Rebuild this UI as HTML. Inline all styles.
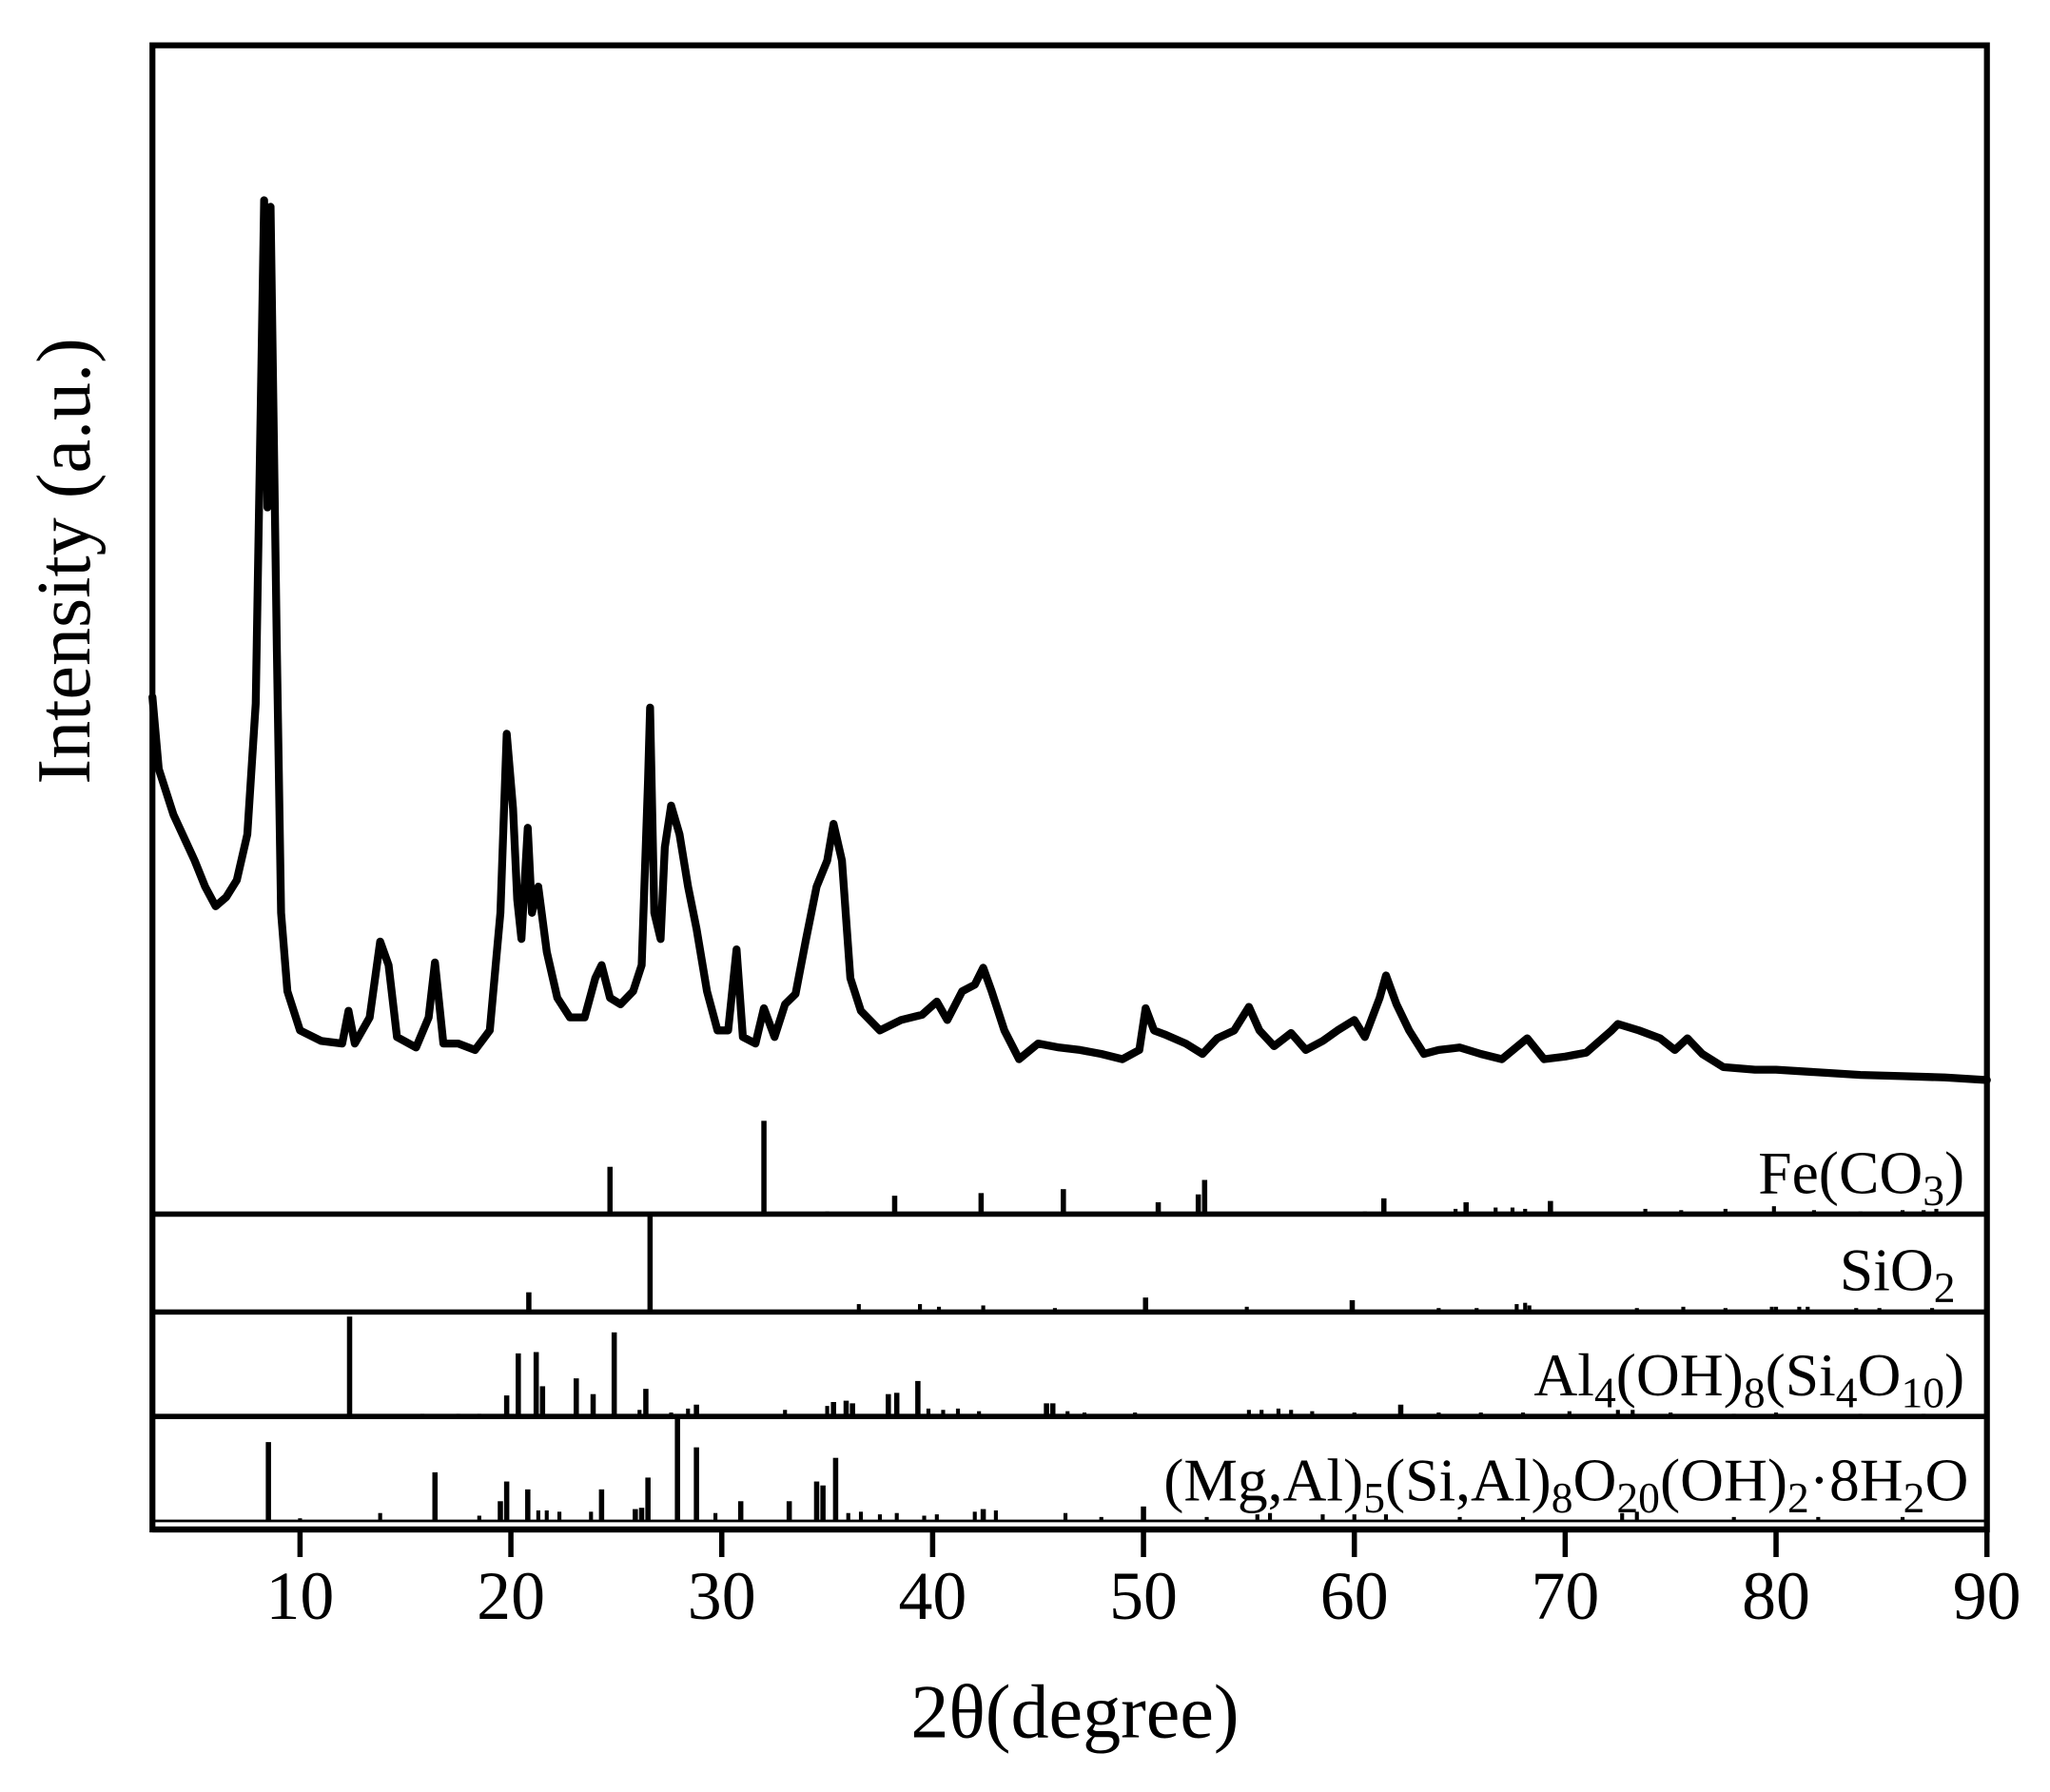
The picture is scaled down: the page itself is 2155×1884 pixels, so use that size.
<!DOCTYPE html>
<html><head><meta charset="utf-8"><style>
html,body{margin:0;padding:0;background:#fff;}
svg{display:block;}
text{font-family:"Liberation Serif",serif;fill:#000;}
</style></head><body>
<svg id="chart" width="2155" height="1884" viewBox="0 0 1560 1363.8" preserveAspectRatio="none" xmlns="http://www.w3.org/2000/svg">
<g id="plot"></g>
</svg>
<script>
// main XRD pattern: 2theta and intensity
const mainX=[3.0,3.3,4,5,5.5,6,6.5,7,7.5,7.9,8.1,8.3,8.45,8.6,8.9,9.1,9.4,10,11,12,12.3,12.6,13.3,13.8,14.2,14.6,15.5,16.1,16.4,16.8,17.5,18.3,19,19.5,19.8,20.1,20.3,20.5,20.8,21.0,21.3,21.7,22.2,22.8,23.5,24.0,24.3,24.7,25.2,25.8,26.2,26.5,26.6,26.8,27.1,27.3,27.6,28.0,28.4,28.8,29.3,29.8,30.3,30.7,31.0,31.6,32.0,32.5,33.0,33.5,34.0,34.5,35.0,35.3,35.7,36.1,36.6,37.5,38.5,39.5,40.2,40.7,41.4,42.0,42.4,42.8,43.4,44.1,45,46,47,48,49,49.8,50.1,50.5,51,52,52.8,53.5,54.3,55.0,55.5,56.2,57.0,57.7,58.5,59.2,60.0,60.5,61.2,61.5,62.0,62.6,63.3,64,65,66,67,68.2,69,70,71,72.2,72.5,73.5,74.5,75.2,75.8,76.5,77.5,79,80,82,84,86,88,90];
const mainI=[300,245,210,175,155,140,147,160,195,295,485,680,445,675,335,135,75,45,37,35,60,35,55,113,95,40,32,55,97,35,35,30,45,135,272,215,145,115,200,135,155,105,70,55,55,85,95,70,65,75,95,235,292,135,115,185,217,195,155,123,75,45,45,107,40,35,62,40,65,73,115,155,175,203,175,85,60,45,53,57,67,53,75,80,93,75,45,23,35,32,30,27,23,30,62,45,42,35,27,39,45,63,45,33,43,30,37,45,53,40,70,87,65,45,27,30,32,27,23,39,23,25,28,45,50,45,39,30,39,27,17,15,15,13,11,10,9,7];
// reference stick patterns: position and height (panel px)
const feX=[24.7,32.0,35.0,38.2,42.3,46.2,50.7,52.6,52.9,60.5,61.4,64.8,65.3,66.7,67.5,68.1,69.3,73.8,75.5,77.6,79.9,81.8,84,86,87,87.6];
const feH=[36,71,2,14,16,19,9,15,26,2,12,4,9,5,5,4,10,4,3,4,6,3,2,3,3,4];
const siX=[20.85,26.6,36.5,39.4,40.3,42.4,45.8,50.1,54.9,59.9,64.0,65.8,67.7,68.1,68.3,73.4,75.6,77.6,79.8,80.0,81.1,81.5,83.8,84.9,87.4];
const siH=[15,75,6,6,4,5,3,11,4,9,3,3,6,7,5,3,4,3,4,4,4,4,3,3,3];
const alX=[12.35,15.8,17.5,18.5,19.8,20.35,21.2,21.5,23.1,23.9,24.9,26.1,26.4,27.6,28.4,28.8,33.0,35.0,35.3,35.9,36.2,37.9,38.3,39.3,39.8,40.5,41.2,42.2,45.4,45.7,46.4,47.2,49.6,55,55.6,56.4,57.0,58,60,62.2,64,66,68,70.2,72.5,73.2,75,78,80,84,87];
const alH=[76,2,2,2,16,48,49,23,29,17,64,5,21,3,6,9,5,8,11,12,10,17,18,27,6,5,6,4,10,10,4,3,3,5,5,6,5,4,3,9,3,3,3,4,5,5,3,2,3,2,2];
const mgX=[8.5,10,13.8,16.4,18.5,19.5,19.8,20.8,21.3,21.7,22.3,23.8,24.3,25.9,26.2,26.5,27.9,28.8,29.7,30.9,33.2,34.5,34.8,35.4,36,36.6,37.5,38.3,39.6,40.2,42,42.4,43,46.3,48,50,53,55.4,56,58.5,60,61.5,65,68,72.7,73.4,78,82,86];
const mgH=[60,2,6,37,4,15,30,24,8,8,7,7,24,9,10,33,80,56,6,15,15,30,27,48,6,7,5,6,4,5,7,9,8,6,3,11,3,5,6,5,5,5,3,3,6,7,3,3,3];
const tickVals=[10,20,30,40,50,60,70,80,90];
const tickLabels=["10","20","30","40","50","60","70","80","90"];

const NS="http://www.w3.org/2000/svg";
const g=document.getElementById('plot');
const L=116,R=1512,T=34.5,B=1164;
const xs=v=>L+(v-3)/(90-3)*(R-L);
const ys=v=>829-v*0.995;
function mk(tag,attrs){const e=document.createElementNS(NS,tag);for(const k in attrs)e.setAttribute(k,attrs[k]);g.appendChild(e);return e;}

const fr=mk('rect',{x:L,y:T,width:R-L,height:B-T,fill:'none',stroke:'#000','stroke-width':4.5});


[[924,4,'fe-panel-baseline'],[998.5,4,'sio2-panel-baseline'],[1078,4,'al-panel-baseline'],[1157.5,2,'mg-panel-baseline']].forEach(s=>{
 const l=mk('line',{x1:L,x2:R,y1:s[0],y2:s[0],stroke:'#000','stroke-width':s[1]});
 
 
});
const ax=mk('line',{x1:L,x2:R,y1:B,y2:B,stroke:'#000','stroke-width':4.5});



let d='';
mainX.forEach((x,i)=>{d+=(i?'L':'M')+xs(x).toFixed(1)+','+ys(mainI[i]).toFixed(1);});
const p=mk('path',{d:d,fill:'none',stroke:'#000','stroke-width':6,'stroke-linejoin':'round','stroke-linecap':'round'});



function sticks(X,H,base,name){
 X.forEach((x,i)=>{
  const w=H[i]>8?4:3;
  const s=mk('rect',{x:xs(x)-w/2,y:base-H[i],width:w,height:H[i],fill:'#000'});
  
  
 });
}
sticks(feX,feH,924,'feco3-stick');
sticks(siX,siH,998.5,'sio2-stick');
sticks(alX,alH,1078,'kaolinite-stick');
sticks(mgX,mgH,1157.5,'palygorskite-stick');

tickVals.forEach((v,i)=>{
 const t=mk('line',{x1:xs(v),x2:xs(v),y1:B,y2:1185,stroke:'#000','stroke-width':4});
 
 
 const tx=mk('text',{x:xs(v),y:1232,'text-anchor':'middle','font-size':52});
 tx.textContent=tickLabels[i];
 
 
});
</script>
<svg style="position:absolute;left:0;top:0" width="2155" height="1884" viewBox="0 0 1560 1363.8" preserveAspectRatio="none" xmlns="http://www.w3.org/2000/svg">
<text x="818" y="1322" text-anchor="middle" font-size="58">2θ(degree)</text>
<text transform="translate(68,427) rotate(-90)" text-anchor="middle" font-size="58">Intensity (a.u.)</text>
<text x="1495" y="908" text-anchor="end" font-size="46">Fe(CO<tspan font-size="33" dy="9">3</tspan><tspan dy="-9">)</tspan></text>
<text x="1488" y="982" text-anchor="end" font-size="46">SiO<tspan font-size="33" dy="9">2</tspan></text>
<text x="1495" y="1062" text-anchor="end" font-size="46">Al<tspan font-size="33" dy="9">4</tspan><tspan dy="-9">(OH)</tspan><tspan font-size="33" dy="9">8</tspan><tspan dy="-9">(Si</tspan><tspan font-size="33" dy="9">4</tspan><tspan dy="-9">O</tspan><tspan font-size="33" dy="9">10</tspan><tspan dy="-9">)</tspan></text>
<text x="1498" y="1142" text-anchor="end" font-size="46">(Mg,Al)<tspan font-size="33" dy="9">5</tspan><tspan dy="-9">(Si,Al)</tspan><tspan font-size="33" dy="9">8</tspan><tspan dy="-9">O</tspan><tspan font-size="33" dy="9">20</tspan><tspan dy="-9">(OH)</tspan><tspan font-size="33" dy="9">2</tspan><tspan dy="-9">·8H</tspan><tspan font-size="33" dy="9">2</tspan><tspan dy="-9">O</tspan></text>
</svg>
</body></html>
